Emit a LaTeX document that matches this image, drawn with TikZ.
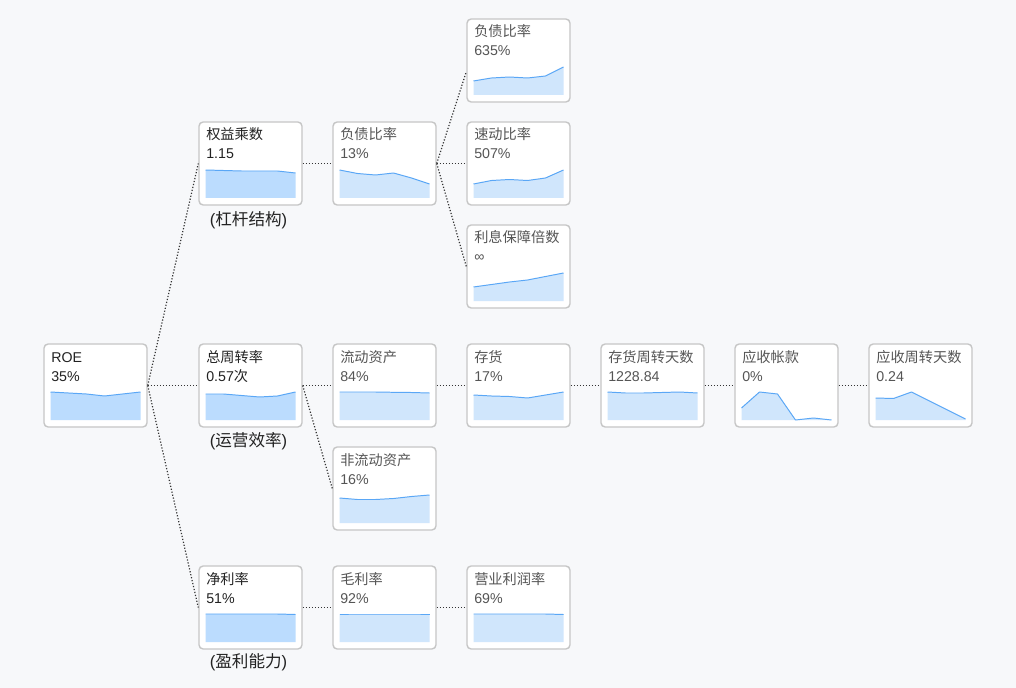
\documentclass[tikz,border=0pt]{standalone}
\usepackage{fontspec}
\setmainfont{Liberation Sans}
\newfontfamily\cjk{Noto Sans CJK SC}
\usepackage{tikz}
\definecolor{cbg}{HTML}{F7F8FA}
\definecolor{cedge}{HTML}{C6C6C6}
\definecolor{cink}{HTML}{222222}
\definecolor{csub}{HTML}{555555}
\definecolor{cline}{HTML}{5AA7F6}
\definecolor{cfillA}{HTML}{BBDCFE}
\definecolor{cfillB}{HTML}{D0E6FC}
\definecolor{cdot}{HTML}{333333}
\tikzset{kbox/.style={rounded corners=3pt,draw=cedge,line width=1pt,fill=white,minimum width=2.575cm,minimum height=2.075cm,inner sep=0pt},
  ktxt/.style={anchor=base west,inner sep=0pt,font=\fontsize{10.1}{12}\selectfont},
  ktxtA/.style={ktxt,text=cink}, ktxtB/.style={ktxt,text=csub},
  kfillA/.style={fill=cfillA}, kfillB/.style={fill=cfillB},
  kline/.style={draw=cline,line width=0.7pt,line join=round},
  link/.style={draw=cdot,line width=0.85pt,dash pattern=on 0.85pt off 1.3pt},
  grp/.style={font=\fontsize{11.8}{14}\selectfont,text=cink,inner sep=0pt}}
% box: name, left, top, title, value, six chart heights, level
\newcommand{\kpi}[7]{%
  \node[kbox] (#1) at ({#2+51.5},{#3+41.5}) {};
  \node[ktxt#7] (#1-t) at ({#2+7},{#3+18}) {#4};
  \node[ktxt#7] (#1-v) at ({#2+7},{#3+37}) {#5};
  \def\pts{}%
  \foreach \h [count=\i from 0] in {#6} {\xdef\pts{\pts ({#2+6.5+18*\i},{#3+76-\h})}}%
  \edef\tmp{\noexpand\fill[kfill#7] ({#2+6.5},{#3+76}) -- plot coordinates {\pts} -- ({#2+96.5},{#3+76}) -- cycle;
    \noexpand\draw[kline] plot coordinates {\pts};}\tmp}

\begin{document}
\begin{tikzpicture}[x=0.025cm,y=-0.025cm]
\fill[cbg] (0,0) rectangle (1016,688);

% ---- boxes
\kpi{roe}{44}{344}{ROE}{35\%}{28,27,26,24,26,28}{A}
\kpi{em}{199}{122}{{\cjk 权益乘数}}{1.15}{28,27.5,27,27,27,25}{A}
\kpi{dr}{333}{122}{{\cjk 负债比率}}{13\%}{28,24.5,23,25,20,14}{B}
\kpi{dr2}{467}{19}{{\cjk 负债比率}}{635\%}{14,17,18,17,19,28}{B}
\kpi{qr}{467}{122}{{\cjk 速动比率}}{507\%}{14,17.5,18.5,17.5,20,28}{B}
\kpi{ic}{467}{225}{{\cjk 利息保障倍数}}{∞}{14,16.5,19,21,24.5,28}{B}
\kpi{turn}{199}{344}{{\cjk 总周转率}}{0.57{\cjk 次}}{26,26,24.5,23,24,28}{A}
\kpi{ca}{333}{344}{{\cjk 流动资产}}{84\%}{28,28,28,27.7,27.5,27}{B}
\kpi{inv}{467}{344}{{\cjk 存货}}{17\%}{25,24,23.5,22,25,28}{B}
\kpi{invd}{601}{344}{{\cjk 存货周转天数}}{1228.84}{28,27,27,27.5,28,27}{B}
\kpi{ar}{735}{344}{{\cjk 应收帐款}}{0\%}{12,28,26,0,2,0}{B}
\kpi{ard}{869}{344}{{\cjk 应收周转天数}}{0.24}{22,21.5,28,19,10,1}{B}
\kpi{nca}{333}{447}{{\cjk 非流动资产}}{16\%}{25,23.5,23.5,24.5,26.5,28}{B}
\kpi{npm}{199}{566}{{\cjk 净利率}}{51\%}{28,28,28,28,28,27.5}{A}
\kpi{gpm}{333}{566}{{\cjk 毛利率}}{92\%}{28,28,28,28,28,28}{B}
\kpi{opm}{467}{566}{{\cjk 营业利润率}}{69\%}{28,28,28,28,28,27.5}{B}

% ---- group labels
\node[grp] (em-lab) at (248.5,220.5) {({\cjk 杠杆结构})};
\node[grp] (turn-lab) at (248.5,441.5) {({\cjk 运营效率})};
\node[grp] (npm-lab) at (248.5,662.5) {({\cjk 盈利能力})};

% ---- links
\draw[link] (roe.east) -- (em.west);
\draw[link] (roe.east) -- (turn.west);
\draw[link] (roe.east) -- (npm.west);
\draw[link] (em.east) -- (dr.west);
\draw[link] (dr.east) -- ([yshift=-8pt]dr2.west);
\draw[link] (dr.east) -- (qr.west);
\draw[link] (dr.east) -- (ic.west);
\draw[link] (turn.east) -- (ca.west);
\draw[link] (turn.east) -- (nca.west);
\draw[link] (ca.east) -- (inv.west);
\draw[link] (inv.east) -- (invd.west);
\draw[link] (invd.east) -- (ar.west);
\draw[link] (ar.east) -- (ard.west);
\draw[link] (npm.east) -- (gpm.west);
\draw[link] (gpm.east) -- (opm.west);
\end{tikzpicture}
\end{document}
